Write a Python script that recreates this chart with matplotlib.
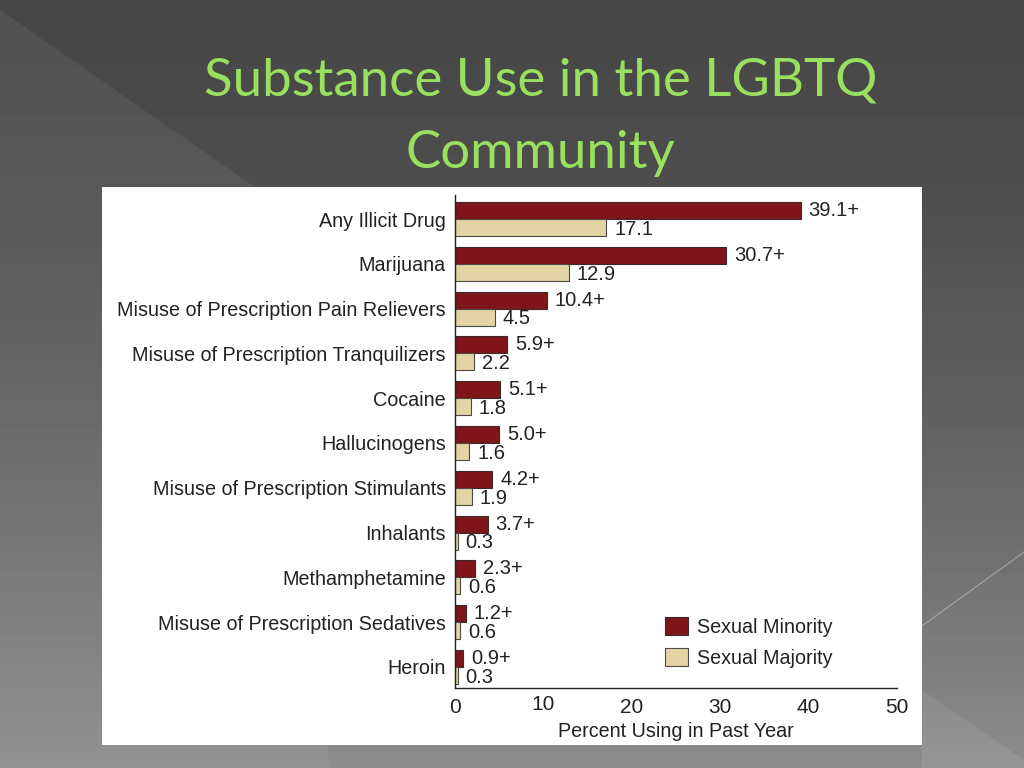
import numpy as np
import matplotlib
matplotlib.use('Agg')
import matplotlib.pyplot as plt
from matplotlib.patches import Rectangle, Polygon
import matplotlib.transforms as mtransforms

categories = ['Any Illicit Drug', 'Marijuana', 'Misuse of Prescription Pain Relievers',
              'Misuse of Prescription Tranquilizers', 'Cocaine', 'Hallucinogens',
              'Misuse of Prescription Stimulants', 'Inhalants', 'Methamphetamine',
              'Misuse of Prescription Sedatives', 'Heroin']
minority = [39.1, 30.7, 10.4, 5.9, 5.1, 5.0, 4.2, 3.7, 2.3, 1.2, 0.9]
majority = [17.1, 12.9, 4.5, 2.2, 1.8, 1.6, 1.9, 0.3, 0.6, 0.6, 0.3]
xticks = [0, 10, 20, 30, 40, 50]

red = '#7f1519'
tan = '#e3d4a6'
font = ['Liberation Sans', 'DejaVu Sans']

fig = plt.figure(figsize=(10.24, 7.68), dpi=100)

# slide background
bg = fig.add_axes([0, 0, 1, 1])
grad = np.linspace(0, 1, 256).reshape(-1, 1)
grad = 0.28 + 0.27 * grad ** 1.6
bg.imshow(grad, cmap='gray', vmin=0, vmax=1, aspect='auto',
          extent=[0, 1024, 768, 0])
bg.add_patch(Polygon([(0, 10), (255, 187), (330, 768), (0, 768)],
                     closed=True, color='white', alpha=0.06, lw=0))
bg.add_patch(Polygon([(922, 690), (1024, 760), (1024, 768), (922, 768)],
                     closed=True, color='white', alpha=0.08, lw=0))
bg.plot([922, 1024], [626, 552], color='white', alpha=0.35, lw=0.8)
bg.add_patch(Rectangle((102, 187), 820, 558, color='white', lw=0))
bg.set_xlim(0, 1024)
bg.set_ylim(768, 0)
bg.axis('off')

fig.text(0.528, 0.895, 'Substance Use in the LGBTQ', ha='center', va='center',
         fontsize=38, color='#99e05f', family=['Lato', 'DejaVu Sans'])
fig.text(0.528, 0.80, 'Community', ha='center', va='center',
         fontsize=38, color='#99e05f', family=['Lato', 'DejaVu Sans'])

ax = fig.add_axes([455 / 1024, 1 - 688 / 768, 442 / 1024, 493 / 768])
ax.patch.set_alpha(0)
y = np.arange(len(categories))
h = 0.38
ax.barh(y - h / 2, minority, height=h, color=red, edgecolor='#3a2a2a', lw=0.8,
        label='Sexual Minority')
ax.barh(y + h / 2, majority, height=h, color=tan, edgecolor='#4a4a40', lw=0.8,
        label='Sexual Majority')

for i in range(len(categories)):
    ax.text(minority[i] + 0.9, y[i] - h / 2, f'{minority[i]:.1f}+', va='center',
            ha='left', fontsize=14.5, color='#222222', family=font)
    ax.text(majority[i] + 0.9, y[i] + h / 2 + 0.04, f'{majority[i]:.1f}', va='center',
            ha='left', fontsize=14.5, color='#222222', family=font)

ax.set_xlim(0, 50)
ax.set_ylim(10.47, -0.536)
ax.set_yticks(y)
ax.set_yticklabels(categories, fontsize=14.2, family=font, color='#222222')
ax.set_xticks(xticks)
ax.set_xticklabels([str(t) for t in xticks], fontsize=15, family=font, color='#222222')
ax.tick_params(axis='both', length=0)
ax.tick_params(axis='y', pad=6.5)
ax.tick_params(axis='x', pad=7)
lbl10 = ax.get_xticklabels()[1]
lbl10.set_transform(lbl10.get_transform() +
                    mtransforms.ScaledTranslation(0, 3 / 100, fig.dpi_scale_trans))
for s in ['top', 'right']:
    ax.spines[s].set_visible(False)
for s in ['left', 'bottom']:
    ax.spines[s].set_color('#222222')
    ax.spines[s].set_linewidth(1.0)
ax.set_xlabel('Percent Using in Past Year', fontsize=14.2, family=font,
              color='#222222', labelpad=4)

leg = ax.legend(loc='lower right', bbox_to_anchor=(0.895, 0.005), frameon=False,
                prop={'family': 'Liberation Sans', 'size': 14.2},
                handlelength=1.2, handleheight=1.05, handletextpad=0.45,
                labelspacing=0.55)
for t in leg.get_texts():
    t.set_color('#222222')

fig.savefig('out.png', dpi=100)
